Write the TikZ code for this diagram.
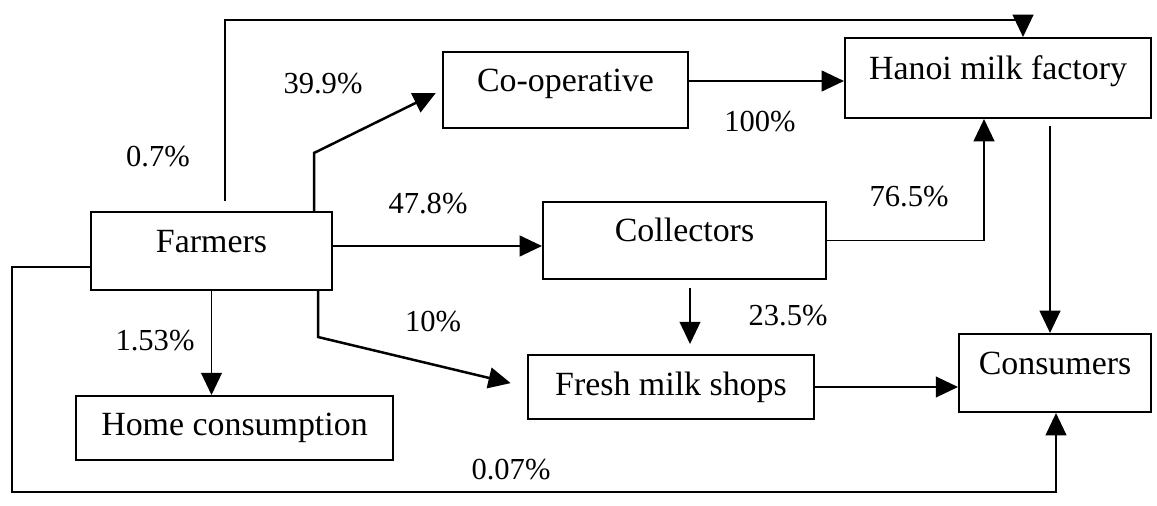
\documentclass[tikz,border=0pt]{standalone}
\usepackage{fontspec}
\setmainfont{Liberation Serif}
\usetikzlibrary{arrows.meta}
\begin{document}
\begin{tikzpicture}[x=0.36pt,y=-0.36pt,
  box/.style={draw,line width=0.75pt,inner sep=0pt,font=\fontsize{12.2}{14}\selectfont},
  boxup/.style={box,text height=8pt,text depth=7pt},
  lbl/.style={font=\fontsize{11}{13}\selectfont,inner sep=0pt},
  conn/.style={line width=0.55pt,-{Triangle[length=8pt,width=7.5pt]}},
  diag/.style={conn,line width=0.9pt}]
\useasboundingbox (0,0) rectangle (1157,505);

% boxes
\node[boxup,minimum width=86.8pt,minimum height=28.1pt] (farm) at (211.5,251) {Farmers};
\node[boxup,minimum width=88.2pt,minimum height=27.4pt] (coop) at (565.5,90) {Co-operative};
\node[boxup,minimum width=110.2pt,minimum height=28.8pt] (hanoi) at (998,78) {Hanoi milk factory};
\node[boxup,minimum width=101.9pt,minimum height=27.7pt] (coll) at (684.5,240.5) {Collectors};
\node[box,minimum width=114.1pt,minimum height=23pt] (home) at (234.5,428) {Home consumption};
\node[box,minimum width=103pt,minimum height=23pt] (fresh) at (671,387) {Fresh milk shops};
\node[boxup,minimum width=69.1pt,minimum height=28.1pt] (cons) at (1055,373) {Consumers};

% helper coordinates
\coordinate (t1) at (225,20);
\coordinate (t2) at (1023,20);
\coordinate (c1) at (314,153);
\coordinate (m1) at (0,246);
\coordinate (m2) at (0,81);
\coordinate (m3) at (984,0);
\coordinate (m4) at (1050,0);
\coordinate (m5) at (690,0);
\coordinate (m6) at (318,337);
\coordinate (b1) at (12,267);
\coordinate (b2) at (12,492);
\coordinate (b3) at (1056,492);

% connectors
\draw[conn,shorten <=3.6pt] (farm.north -| t1) -- (t1) -- (t2) -- (hanoi.north -| t2);
\draw[diag,shorten >=2.5pt] (farm.north -| c1) -- (c1) -- (coop.west);
\draw[conn] (farm.east |- m1) -- (coll.west |- m1);
\draw[conn] (coop.east |- m2) -- (hanoi.west |- m2);
\draw[conn] (coll.east) -| (hanoi.south -| m3);
\draw[conn,shorten <=2.5pt] (hanoi.south -| m4) -- (cons.north -| m4);
\draw[conn,shorten <=2.9pt,shorten >=3.6pt] (coll.south -| m5) -- (fresh.north -| m5);
\draw[diag,shorten >=6pt] (farm.south -| m6) -- (m6) -- (fresh.west);
\draw[conn] (farm.south) -- (home.north -| farm.south);
\draw[conn] (fresh.east) -- (cons.west |- fresh.east);
\draw[conn] (farm.west |- b1) -- (b1) -- (b2) -- (b3) -- (cons.south -| b3);

% labels
\node[lbl] (l07) at (158,157) {0.7\%};
\node[lbl] (l399) at (323,84) {39.9\%};
\node[lbl] (l478) at (428,204) {47.8\%};
\node[lbl] (l100) at (760,122) {100\%};
\node[lbl] (l765) at (909,197) {76.5\%};
\node[lbl] (l235) at (788,316) {23.5\%};
\node[lbl] (l10) at (433,322) {10\%};
\node[lbl] (l153) at (155,341) {1.53\%};
\node[lbl] (l007) at (511,470) {0.07\%};
\end{tikzpicture}
\end{document}
